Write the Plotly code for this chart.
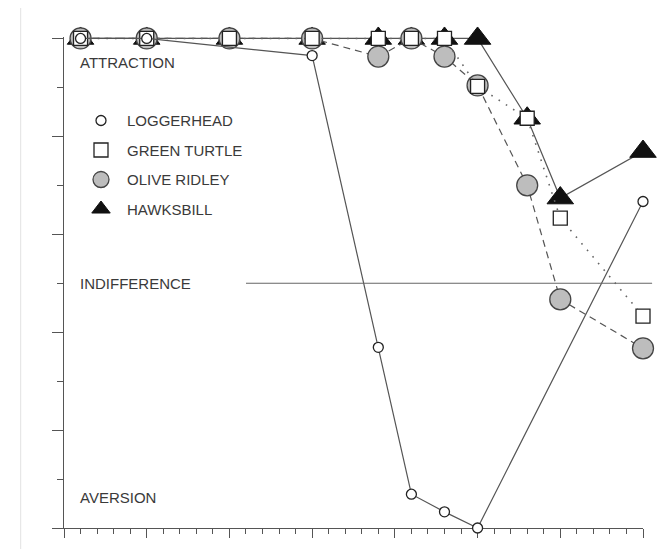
import plotly.graph_objects as go

# ---- data (x in axis units, y = preference index 0 = aversion, 1 = attraction)
logger_x = [1, 5, 15, 19, 21, 23, 25, 35]
logger_y = [1.0, 1.0, 0.965, 0.369, 0.069, 0.033, 0.0, 0.667]

green_x = [1, 5, 10, 15, 19, 21, 23, 25, 28, 30, 35]
green_y = [1.0, 1.0, 1.0, 1.0, 1.0, 1.0, 1.0, 0.902, 0.837, 0.633, 0.433]

olive_x = [1, 5, 10, 15, 19, 21, 23, 25, 28, 30, 35]
olive_y = [1.0, 1.0, 1.0, 1.0, 0.963, 1.0, 0.963, 0.904, 0.70, 0.467, 0.367]

hawks_x = [1, 5, 10, 15, 19, 21, 23, 25, 28, 30, 35]
hawks_y = [1.0, 1.0, 1.0, 1.0, 1.0, 1.0, 1.0, 1.0, 0.837, 0.674, 0.769]

species = ["LOGGERHEAD", "GREEN TURTLE", "OLIVE RIDLEY", "HAWKSBILL"]

labels = ["ATTRACTION", "INDIFFERENCE", "AVERSION"]
label_y = [0.95, 0.5, 0.063]
label_x = 0.85

X_MAX = 35
INDIFF_Y = 0.5
INDIFF_X = [11.0, 35.55]

LINE_C = "#555555"
EDGE_C = "#222222"
FONT = "Liberation Sans, Arial, Helvetica, sans-serif"
TXT_C = "#3a3a3a"

styles = {
    "HAWKSBILL": dict(marker=dict(symbol="triangle-up", size=23, color="#111111",
                                  line=dict(color="#111111", width=1)),
                      line=dict(color=LINE_C, width=1.2)),
    "OLIVE RIDLEY": dict(marker=dict(symbol="circle", size=21, color="#bdbdbd",
                                     line=dict(color="#444444", width=1.3)),
                         line=dict(color=LINE_C, width=1.2, dash="7px,5px")),
    "GREEN TURTLE": dict(marker=dict(symbol="square", size=14, color="white",
                                     line=dict(color=EDGE_C, width=1.3)),
                         line=dict(color="#666666", width=1.6, dash="1.6px,7px")),
    "LOGGERHEAD": dict(marker=dict(symbol="circle", size=10, color="white",
                                   line=dict(color=EDGE_C, width=1.3)),
                       line=dict(color=LINE_C, width=1.2)),
}
series = {
    "LOGGERHEAD": (logger_x, logger_y),
    "GREEN TURTLE": (green_x, green_y),
    "OLIVE RIDLEY": (olive_x, olive_y),
    "HAWKSBILL": (hawks_x, hawks_y),
}

fig = go.Figure()
# draw order: hawksbill bottom, loggerhead top
for name in ["HAWKSBILL", "OLIVE RIDLEY", "GREEN TURTLE", "LOGGERHEAD"]:
    xs, ys = series[name]
    st = styles[name]
    fig.add_trace(go.Scatter(x=xs, y=ys, mode="lines+markers", name=name,
                             marker=st["marker"], line=st["line"],
                             showlegend=False, cliponaxis=False, hoverinfo="skip"))
# legend entries (markers only)
for name in species:
    st = styles[name]
    fig.add_trace(go.Scatter(x=[None], y=[None], mode="markers", name=name,
                             marker=st["marker"], legendgroup=name, showlegend=True))

fig.add_shape(type="line", xref="paper", yref="y",
              x0=INDIFF_X[0] / X_MAX, x1=INDIFF_X[1] / X_MAX, y0=INDIFF_Y, y1=INDIFF_Y,
              line=dict(color="#666666", width=1.1))
# faint page edge line
fig.add_shape(type="line", xref="paper", yref="paper",
              x0=-0.0748, x1=-0.0748, y0=-0.05, y1=1.0686,
              line=dict(color="#e2e2e2", width=1))

for t, yv in zip(labels, label_y):
    fig.add_annotation(x=label_x, y=yv, xref="x", yref="y", text=t, showarrow=False,
                       xanchor="left", yanchor="middle",
                       font=dict(family=FONT, size=15, color=TXT_C))

axis_common = dict(showgrid=False, zeroline=False, showticklabels=False,
                   showline=True, linecolor=LINE_C, linewidth=1.2,
                   ticks="outside", tickcolor=LINE_C, tickwidth=1.2,
                   layer="below traces")
fig.update_xaxes(range=[0, X_MAX], dtick=5, tick0=0, ticklen=9,
                 minor=dict(dtick=1, tick0=0, ticklen=5, ticks="outside",
                            tickcolor=LINE_C, tickwidth=1.1, showgrid=False),
                 **axis_common)
fig.update_yaxes(range=[0, 1.003], dtick=0.2, tick0=0, ticklen=11,
                 minor=dict(dtick=0.1, tick0=0, ticklen=6, ticks="outside",
                            tickcolor=LINE_C, tickwidth=1.1, showgrid=False),
                 **axis_common)

# page body has an 8px margin, so the figure is sized/margined to compensate
fig.update_layout(
    width=658, height=541,
    margin=dict(l=56, r=23, t=29, b=21),
    paper_bgcolor="white", plot_bgcolor="white",
    font=dict(family=FONT, size=15, color=TXT_C),
    legend=dict(x=0.019, y=0.863, xanchor="left", yanchor="top",
                bgcolor="rgba(0,0,0,0)", borderwidth=0, itemwidth=42,
                tracegroupgap=7, traceorder="grouped",
                font=dict(family=FONT, size=15, color=TXT_C)),
)

fig.write_html("out.html")
